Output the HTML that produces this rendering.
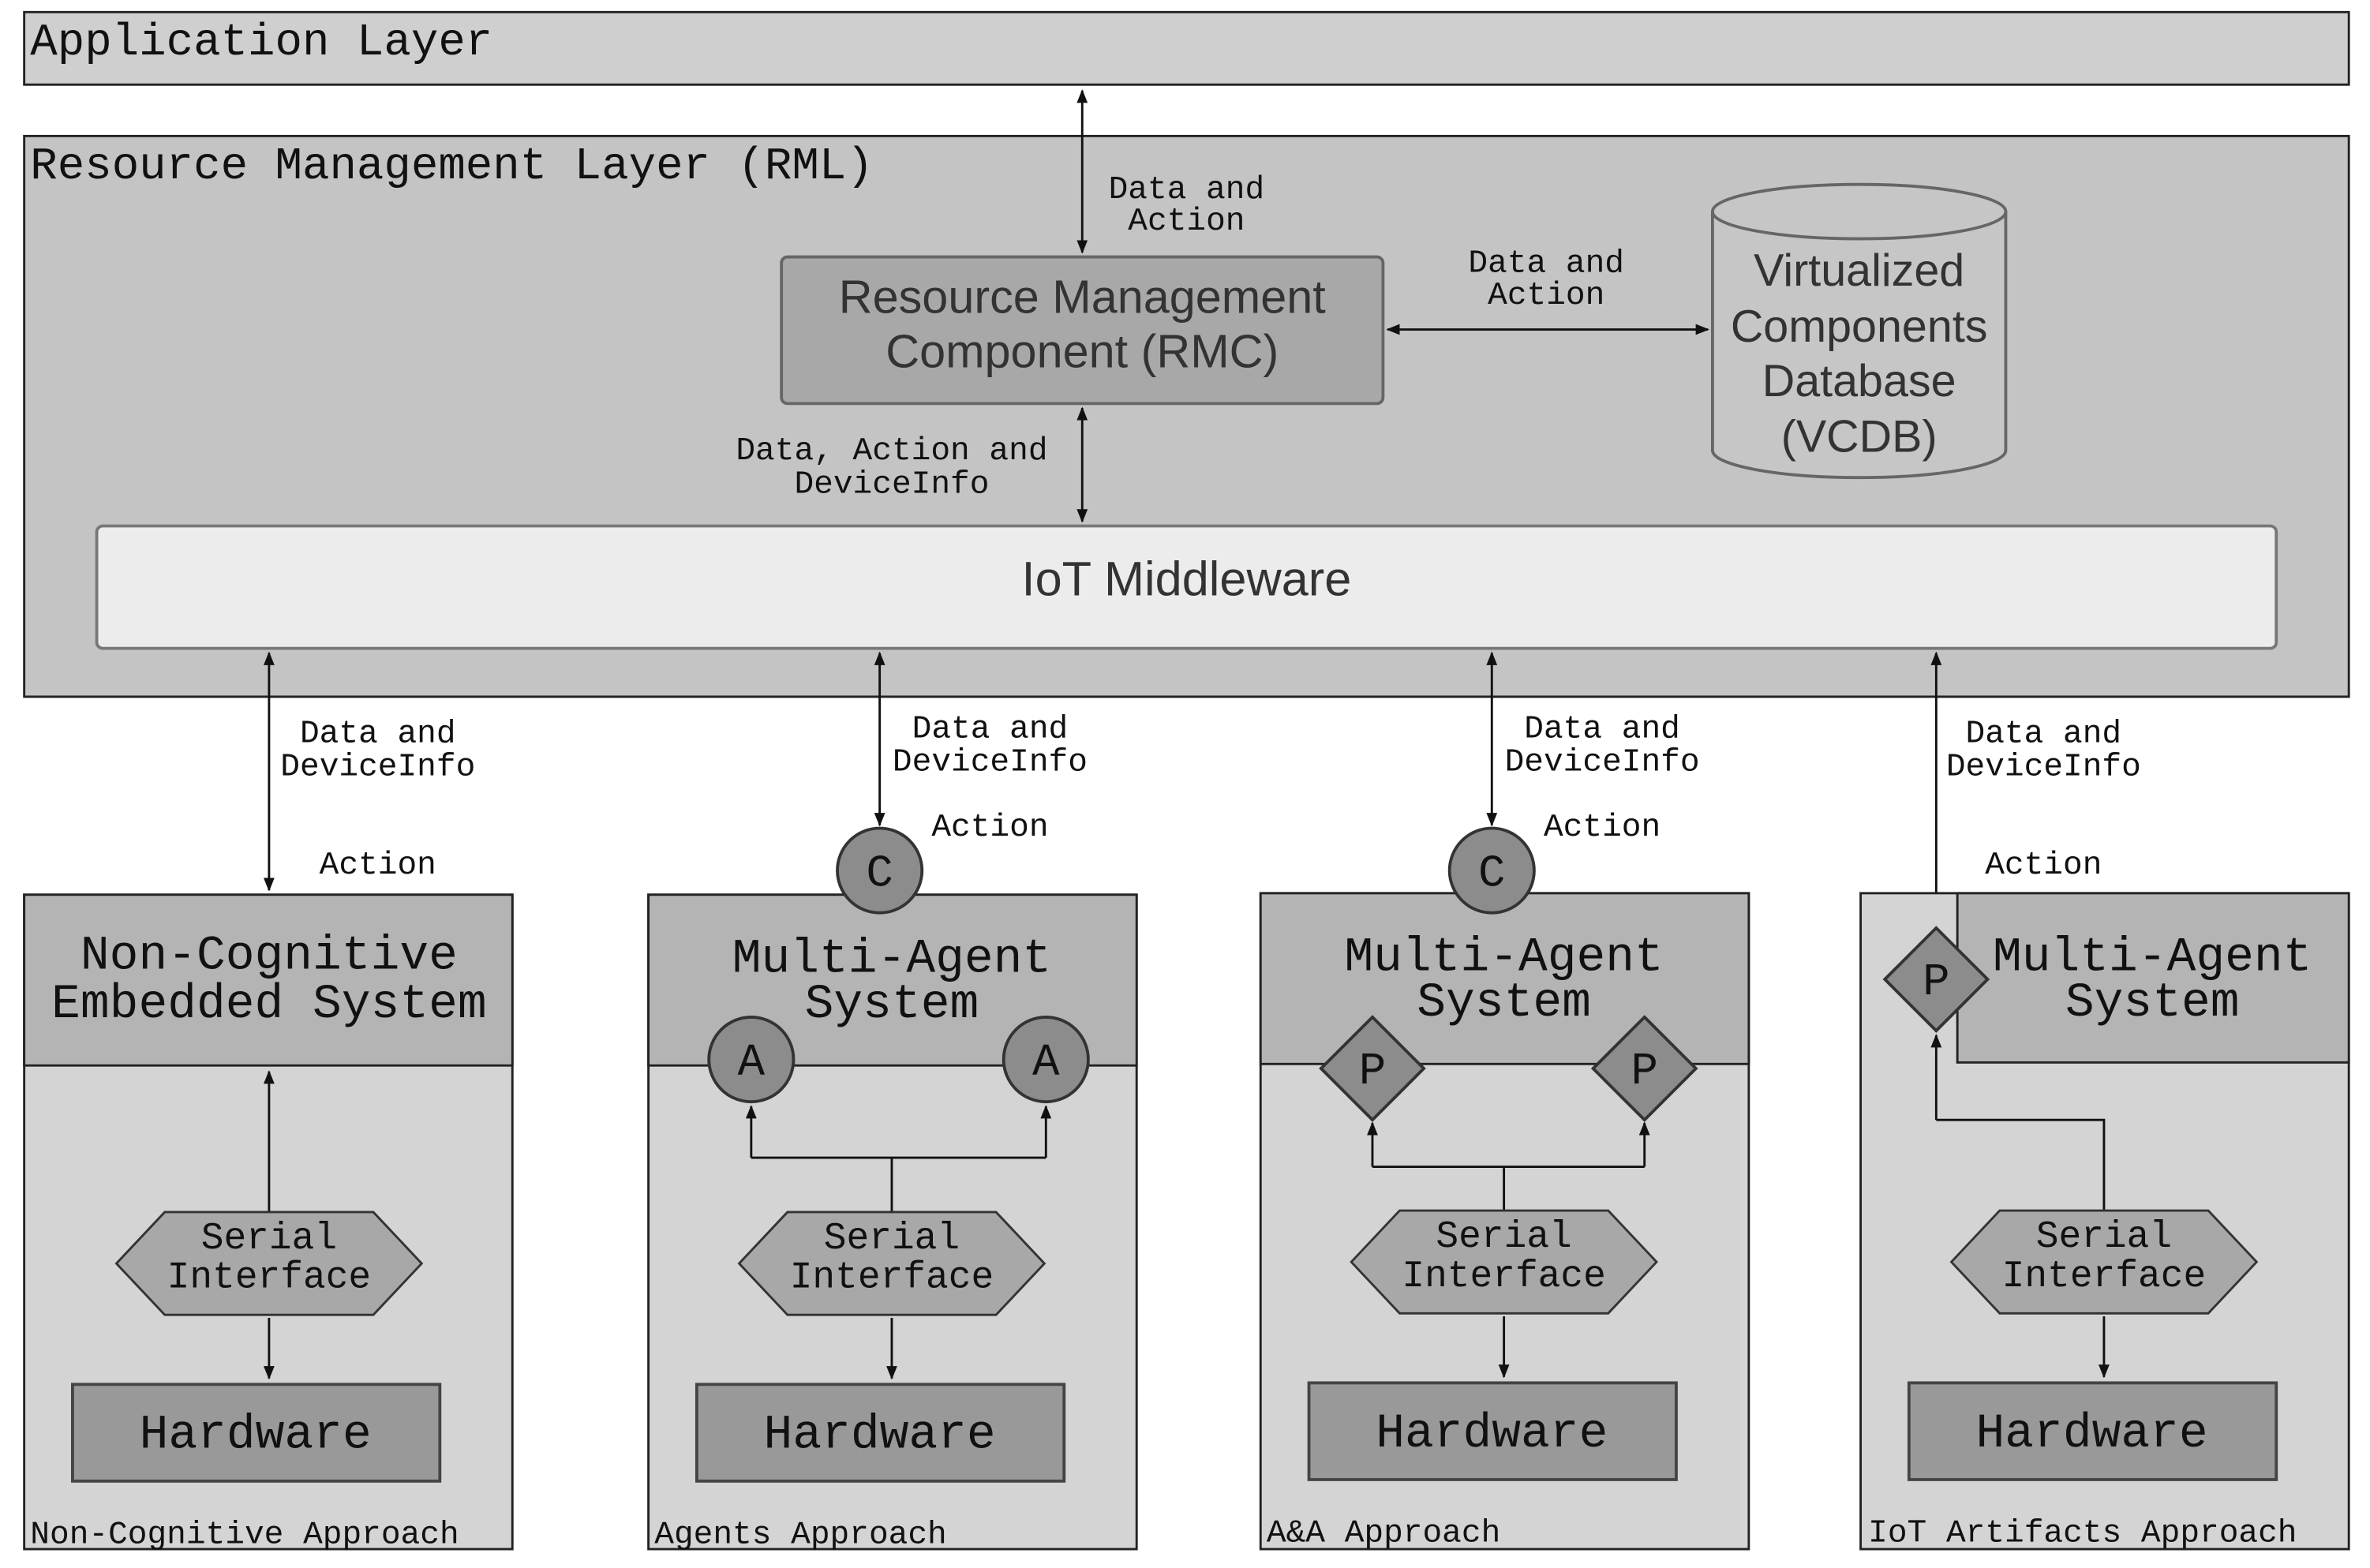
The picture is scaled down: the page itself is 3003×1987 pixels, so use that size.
<!DOCTYPE html>
<html><head><meta charset="utf-8"><style>
html,body{margin:0;padding:0;background:#fff;}
svg{display:block;}
.m{font-family:"Liberation Mono",monospace;fill:#111;}
.s{font-family:"Liberation Sans",sans-serif;fill:#333;}
</style></head><body>
<svg width="3003" height="1987" viewBox="0 0 1568 1037.5" preserveAspectRatio="none" xmlns="http://www.w3.org/2000/svg">
<defs>
<marker id="a" viewBox="0 0 10 10" refX="9" refY="5" markerWidth="6" markerHeight="6" orient="auto-start-reverse"><path d="M0,1 L10,5 L0,9 z" fill="#111"/></marker>
</defs>
<g stroke="#222" stroke-width="1.5">
<rect x="16" y="8" width="1538" height="48" fill="#cfcfcf"/>
<rect x="16" y="90" width="1538" height="371" fill="#c4c4c4"/>
<rect x="517" y="170" width="398" height="97" rx="4" fill="#a8a8a8" stroke="#666" stroke-width="2"/>
<path d="M1133,140 V298 A97,18 0 0 0 1327,298 V140" fill="#c6c6c6" stroke="#666" stroke-width="2"/>
<ellipse cx="1230" cy="140" rx="97" ry="18" fill="#c6c6c6" stroke="#666" stroke-width="2"/>
<rect x="64" y="348" width="1442" height="81" rx="4" fill="#ececec" stroke="#777" stroke-width="2"/>
</g>
<g class="m" font-size="30"><text x="20" y="36">Application Layer</text><text x="20" y="118">Resource Management Layer (RML)</text></g>
<g class="s" font-size="30" text-anchor="middle">
<text x="716" y="207" font-size="31">Resource Management</text><text x="716" y="243" font-size="31">Component (RMC)</text>
<text x="1230" y="189">Virtualized</text><text x="1230" y="226">Components</text><text x="1230" y="262">Database</text><text x="1230" y="299">(VCDB)</text>
<text x="785" y="394" font-size="32">IoT Middleware</text>
</g>
<g stroke="#111" stroke-width="1.5" fill="none">
<line x1="716" y1="60" x2="716" y2="167" marker-start="url(#a)" marker-end="url(#a)"/>
<line x1="918" y1="218" x2="1130" y2="218" marker-start="url(#a)" marker-end="url(#a)"/>
<line x1="716" y1="270" x2="716" y2="345" marker-start="url(#a)" marker-end="url(#a)"/>
<line x1="178" y1="432" x2="178" y2="589" marker-start="url(#a)" marker-end="url(#a)"/>
<line x1="582" y1="432" x2="582" y2="546" marker-start="url(#a)" marker-end="url(#a)"/>
<line x1="987" y1="432" x2="987" y2="546" marker-start="url(#a)" marker-end="url(#a)"/>
<line x1="1281" y1="614" x2="1281" y2="432" marker-end="url(#a)"/>
</g>
<g class="m" font-size="21.5" text-anchor="middle">
<text x="785" y="131">Data and</text><text x="785" y="152">Action</text>
<text x="1023" y="180">Data and</text><text x="1023" y="201">Action</text>
<text x="590" y="304">Data, Action and</text><text x="590" y="326">DeviceInfo</text>
<text x="250" y="491">Data and</text><text x="250" y="513">DeviceInfo</text><text x="250" y="578">Action</text>
<text x="655" y="488">Data and</text><text x="655" y="510">DeviceInfo</text><text x="655" y="553">Action</text>
<text x="1060" y="488">Data and</text><text x="1060" y="510">DeviceInfo</text><text x="1060" y="553">Action</text>
<text x="1352" y="491">Data and</text><text x="1352" y="513">DeviceInfo</text><text x="1352" y="578">Action</text>
</g>
<g stroke="#222" stroke-width="1.5">
<rect x="16" y="592" width="323" height="433" fill="#d4d4d4"/><rect x="16" y="592" width="323" height="113" fill="#b4b4b4"/>
<rect x="429" y="592" width="323" height="433" fill="#d4d4d4"/><rect x="429" y="592" width="323" height="113" fill="#b4b4b4"/>
<rect x="834" y="591" width="323" height="434" fill="#d4d4d4"/><rect x="834" y="591" width="323" height="113" fill="#b4b4b4"/>
<rect x="1231" y="591" width="323" height="434" fill="#d4d4d4"/><rect x="1295" y="591" width="259" height="112" fill="#b4b4b4"/>
</g>
<g class="m" font-size="32" text-anchor="middle">
<text x="178" y="641">Non-Cognitive</text><text x="178" y="673">Embedded System</text>
<text x="590" y="643">Multi-Agent</text><text x="590" y="673">System</text>
<text x="995" y="642">Multi-Agent</text><text x="995" y="672">System</text>
<text x="1424" y="642">Multi-Agent</text><text x="1424" y="672">System</text>
</g>
<g stroke="#111" stroke-width="1.5" fill="none">
<line x1="178" y1="802" x2="178" y2="709" marker-end="url(#a)"/>
<line x1="178" y1="872" x2="178" y2="912" marker-end="url(#a)"/>
<path d="M590,802 V766 M497,766 H692"/><line x1="497" y1="766" x2="497" y2="732" marker-end="url(#a)"/><line x1="692" y1="766" x2="692" y2="732" marker-end="url(#a)"/>
<line x1="590" y1="872" x2="590" y2="912" marker-end="url(#a)"/>
<path d="M995,802 V772 M908,772 H1088"/><line x1="908" y1="772" x2="908" y2="743" marker-end="url(#a)"/><line x1="1088" y1="772" x2="1088" y2="743" marker-end="url(#a)"/>
<line x1="995" y1="871" x2="995" y2="911" marker-end="url(#a)"/>
<path d="M1392,802 V741 H1281"/><line x1="1281" y1="741" x2="1281" y2="685" marker-end="url(#a)"/>
<line x1="1392" y1="871" x2="1392" y2="911" marker-end="url(#a)"/>
</g>
<g fill="#a8a8a8" stroke="#333" stroke-width="1.5">
<polygon points="77,836 109,802 247,802 279,836 247,870 109,870"/>
<polygon points="489,836 521,802 659,802 691,836 659,870 521,870"/>
<polygon points="894,835 926,801 1064,801 1096,835 1064,869 926,869"/>
<polygon points="1291,835 1323,801 1461,801 1493,835 1461,869 1323,869"/>
</g>
<g fill="#999" stroke="#444" stroke-width="2">
<rect x="48" y="916" width="243" height="64"/><rect x="461" y="916" width="243" height="64"/>
<rect x="866" y="915" width="243" height="64"/><rect x="1263" y="915" width="243" height="64"/>
</g>
<g fill="#8c8c8c" stroke="#333" stroke-width="2">
<circle cx="582" cy="576" r="28"/><circle cx="987" cy="576" r="28"/>
<circle cx="497" cy="701" r="28"/><circle cx="692" cy="701" r="28"/>
<polygon points="908,673 942,707 908,741 874,707"/><polygon points="1088,673 1122,707 1088,741 1054,707"/>
<polygon points="1281,614 1315,648 1281,682 1247,648"/>
</g>
<g class="m" font-size="30" text-anchor="middle">
<text x="582" y="586">C</text><text x="987" y="586">C</text>
<text x="497" y="711">A</text><text x="692" y="711">A</text>
<text x="908" y="717">P</text><text x="1088" y="717">P</text><text x="1281" y="658">P</text>
</g>
<g class="m" font-size="25" text-anchor="middle">
<text x="178" y="826">Serial</text><text x="178" y="852">Interface</text>
<text x="590" y="826">Serial</text><text x="590" y="852">Interface</text>
<text x="995" y="825">Serial</text><text x="995" y="851">Interface</text>
<text x="1392" y="825">Serial</text><text x="1392" y="851">Interface</text>
</g>
<g class="m" font-size="32" text-anchor="middle">
<text x="169" y="958">Hardware</text><text x="582" y="958">Hardware</text><text x="987" y="957">Hardware</text><text x="1384" y="957">Hardware</text>
</g>
<g class="m" font-size="21.5">
<text x="20" y="1021">Non-Cognitive Approach</text><text x="433" y="1021">Agents Approach</text>
<text x="838" y="1020">A&amp;A Approach</text><text x="1236" y="1020">IoT Artifacts Approach</text>
</g>
</svg>
</body></html>
